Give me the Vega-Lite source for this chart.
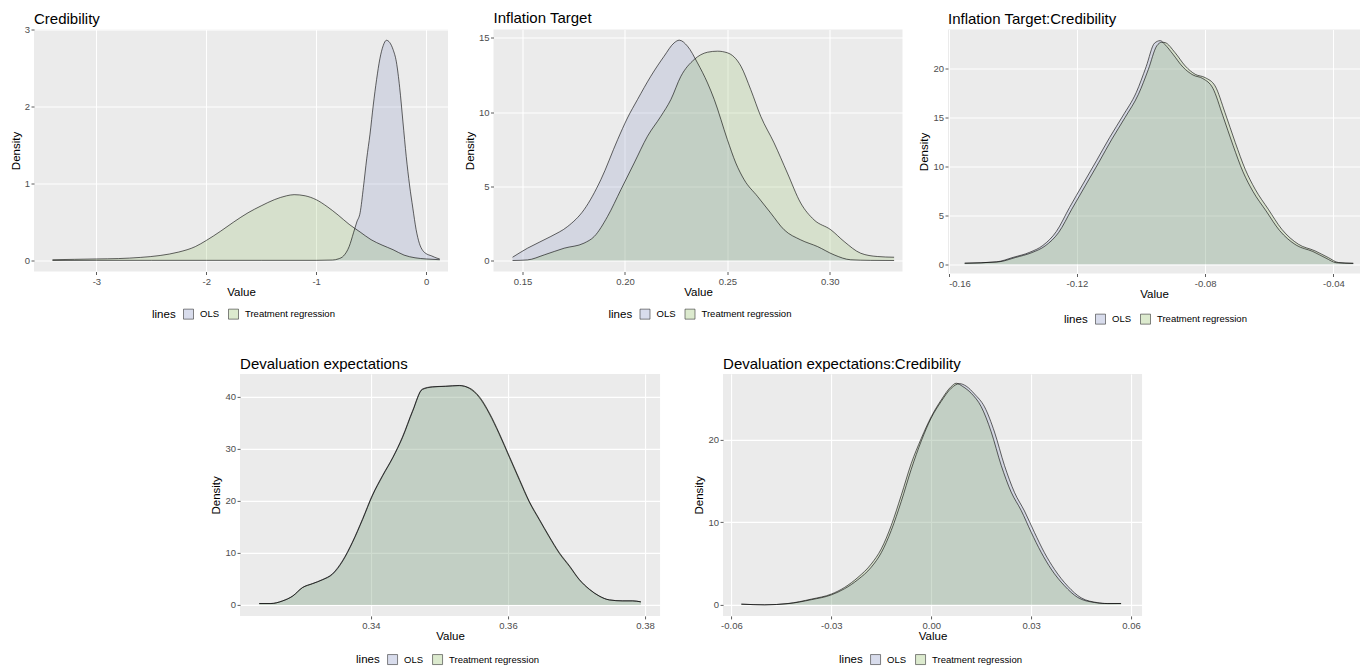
{
  "$schema": "https://vega.github.io/schema/vega-lite/v6.json",
  "background": "white",
  "padding": {"left": 10, "top": 10.5, "right": 0, "bottom": 0},
  "config": {
    "font": "Liberation Sans",
    "view": {"fill": "#EBEBEB", "stroke": null},
    "axis": {"domain": false, "grid": true, "gridColor": "white", "gridWidth": 1.1, "tickColor": "#333333", "tickSize": 3, "tickWidth": 0.8, "labelColor": "#4D4D4D", "labelFontSize": 9.5, "labelPadding": 1.5, "titleFontSize": 11.5, "titleFontWeight": "normal", "titleColor": "black"},
    "axisX": {"titlePadding": 1},
    "axisY": {"titlePadding": 3},
    "legend": {"orient": "none", "direction": "horizontal", "titleOrient": "left", "symbolType": "square", "symbolSize": 100, "symbolStrokeColor": "#333333", "symbolStrokeWidth": 0.6, "labelFontSize": 9.5, "labelColor": "black", "titleFontSize": 11.5, "titleFontWeight": "normal", "titleColor": "black", "titlePadding": 7, "labelOffset": 6, "columnPadding": 7, "padding": 0},
    "title": {"anchor": "start", "frame": "group", "fontSize": 15, "fontWeight": "normal", "color": "black", "offset": 0}
  },
  "datasets": {
    "p1": [
      {"lines": "OLS", "v": -3.4, "d": 0}, {"lines": "OLS", "v": -3.0, "d": 0.002}, {"lines": "OLS", "v": -2.5, "d": 0.002}, {"lines": "OLS", "v": -2.0, "d": 0.002}, {"lines": "OLS", "v": -1.5, "d": 0.002}, {"lines": "OLS", "v": -1.0, "d": 0.002}, {"lines": "OLS", "v": -0.85, "d": 0.006}, {"lines": "OLS", "v": -0.8, "d": 0.02}, {"lines": "OLS", "v": -0.75, "d": 0.06}, {"lines": "OLS", "v": -0.7, "d": 0.18}, {"lines": "OLS", "v": -0.66, "d": 0.36}, {"lines": "OLS", "v": -0.63, "d": 0.5}, {"lines": "OLS", "v": -0.6, "d": 0.62}, {"lines": "OLS", "v": -0.57, "d": 0.95}, {"lines": "OLS", "v": -0.54, "d": 1.32}, {"lines": "OLS", "v": -0.51, "d": 1.64}, {"lines": "OLS", "v": -0.48, "d": 2.02}, {"lines": "OLS", "v": -0.45, "d": 2.35}, {"lines": "OLS", "v": -0.42, "d": 2.62}, {"lines": "OLS", "v": -0.39, "d": 2.79}, {"lines": "OLS", "v": -0.36, "d": 2.86}, {"lines": "OLS", "v": -0.33, "d": 2.83}, {"lines": "OLS", "v": -0.3, "d": 2.74}, {"lines": "OLS", "v": -0.27, "d": 2.58}, {"lines": "OLS", "v": -0.24, "d": 2.25}, {"lines": "OLS", "v": -0.21, "d": 1.8}, {"lines": "OLS", "v": -0.18, "d": 1.35}, {"lines": "OLS", "v": -0.15, "d": 0.98}, {"lines": "OLS", "v": -0.12, "d": 0.68}, {"lines": "OLS", "v": -0.09, "d": 0.4}, {"lines": "OLS", "v": -0.06, "d": 0.22}, {"lines": "OLS", "v": -0.03, "d": 0.13}, {"lines": "OLS", "v": 0.0, "d": 0.09}, {"lines": "OLS", "v": 0.05, "d": 0.06}, {"lines": "OLS", "v": 0.1, "d": 0.03}, {"lines": "OLS", "v": 0.125, "d": 0.02},
      {"lines": "Treatment regression", "v": -3.4, "d": 0.01}, {"lines": "Treatment regression", "v": -3.2, "d": 0.015}, {"lines": "Treatment regression", "v": -3.0, "d": 0.02}, {"lines": "Treatment regression", "v": -2.8, "d": 0.025}, {"lines": "Treatment regression", "v": -2.6, "d": 0.04}, {"lines": "Treatment regression", "v": -2.42, "d": 0.065}, {"lines": "Treatment regression", "v": -2.25, "d": 0.11}, {"lines": "Treatment regression", "v": -2.1, "d": 0.18}, {"lines": "Treatment regression", "v": -2.0, "d": 0.26}, {"lines": "Treatment regression", "v": -1.87, "d": 0.38}, {"lines": "Treatment regression", "v": -1.75, "d": 0.5}, {"lines": "Treatment regression", "v": -1.62, "d": 0.62}, {"lines": "Treatment regression", "v": -1.5, "d": 0.71}, {"lines": "Treatment regression", "v": -1.38, "d": 0.79}, {"lines": "Treatment regression", "v": -1.27, "d": 0.84}, {"lines": "Treatment regression", "v": -1.2, "d": 0.855}, {"lines": "Treatment regression", "v": -1.1, "d": 0.84}, {"lines": "Treatment regression", "v": -1.0, "d": 0.79}, {"lines": "Treatment regression", "v": -0.9, "d": 0.7}, {"lines": "Treatment regression", "v": -0.8, "d": 0.59}, {"lines": "Treatment regression", "v": -0.7, "d": 0.47}, {"lines": "Treatment regression", "v": -0.6, "d": 0.37}, {"lines": "Treatment regression", "v": -0.5, "d": 0.27}, {"lines": "Treatment regression", "v": -0.4, "d": 0.2}, {"lines": "Treatment regression", "v": -0.3, "d": 0.14}, {"lines": "Treatment regression", "v": -0.2, "d": 0.07}, {"lines": "Treatment regression", "v": -0.1, "d": 0.035}, {"lines": "Treatment regression", "v": 0.0, "d": 0.02}, {"lines": "Treatment regression", "v": 0.125, "d": 0.01}
    ],
    "p2": [
      {"lines": "OLS", "v": 0.1451, "d": 0.22}, {"lines": "OLS", "v": 0.1524, "d": 0.83}, {"lines": "OLS", "v": 0.1638, "d": 1.62}, {"lines": "OLS", "v": 0.172, "d": 2.29}, {"lines": "OLS", "v": 0.18, "d": 3.42}, {"lines": "OLS", "v": 0.1882, "d": 5.44}, {"lines": "OLS", "v": 0.1964, "d": 8.14}, {"lines": "OLS", "v": 0.2012, "d": 9.6}, {"lines": "OLS", "v": 0.2061, "d": 10.84}, {"lines": "OLS", "v": 0.2126, "d": 12.41}, {"lines": "OLS", "v": 0.2191, "d": 13.76}, {"lines": "OLS", "v": 0.224, "d": 14.66}, {"lines": "OLS", "v": 0.2265, "d": 14.84}, {"lines": "OLS", "v": 0.2305, "d": 14.44}, {"lines": "OLS", "v": 0.2354, "d": 13.31}, {"lines": "OLS", "v": 0.2403, "d": 11.96}, {"lines": "OLS", "v": 0.2436, "d": 10.84}, {"lines": "OLS", "v": 0.25, "d": 8.14}, {"lines": "OLS", "v": 0.2541, "d": 6.57}, {"lines": "OLS", "v": 0.2582, "d": 5.44}, {"lines": "OLS", "v": 0.2647, "d": 4.32}, {"lines": "OLS", "v": 0.2712, "d": 3.19}, {"lines": "OLS", "v": 0.2777, "d": 2.07}, {"lines": "OLS", "v": 0.2858, "d": 1.39}, {"lines": "OLS", "v": 0.294, "d": 0.94}, {"lines": "OLS", "v": 0.3021, "d": 0.38}, {"lines": "OLS", "v": 0.3102, "d": 0.05}, {"lines": "OLS", "v": 0.32, "d": 0.01}, {"lines": "OLS", "v": 0.3314, "d": 0.0},
      {"lines": "Treatment regression", "v": 0.1451, "d": 0.0}, {"lines": "Treatment regression", "v": 0.1524, "d": 0.04}, {"lines": "Treatment regression", "v": 0.1606, "d": 0.38}, {"lines": "Treatment regression", "v": 0.1703, "d": 0.83}, {"lines": "Treatment regression", "v": 0.18, "d": 1.17}, {"lines": "Treatment regression", "v": 0.185, "d": 1.62}, {"lines": "Treatment regression", "v": 0.1915, "d": 2.97}, {"lines": "Treatment regression", "v": 0.198, "d": 4.77}, {"lines": "Treatment regression", "v": 0.2045, "d": 6.57}, {"lines": "Treatment regression", "v": 0.211, "d": 8.37}, {"lines": "Treatment regression", "v": 0.2175, "d": 9.71}, {"lines": "Treatment regression", "v": 0.2224, "d": 10.84}, {"lines": "Treatment regression", "v": 0.2273, "d": 12.41}, {"lines": "Treatment regression", "v": 0.2338, "d": 13.54}, {"lines": "Treatment regression", "v": 0.2403, "d": 14.03}, {"lines": "Treatment regression", "v": 0.2452, "d": 14.1}, {"lines": "Treatment regression", "v": 0.25, "d": 13.99}, {"lines": "Treatment regression", "v": 0.2566, "d": 13.09}, {"lines": "Treatment regression", "v": 0.2614, "d": 11.51}, {"lines": "Treatment regression", "v": 0.2663, "d": 9.71}, {"lines": "Treatment regression", "v": 0.2728, "d": 7.92}, {"lines": "Treatment regression", "v": 0.2793, "d": 5.89}, {"lines": "Treatment regression", "v": 0.2858, "d": 3.87}, {"lines": "Treatment regression", "v": 0.2923, "d": 2.74}, {"lines": "Treatment regression", "v": 0.3005, "d": 2.07}, {"lines": "Treatment regression", "v": 0.307, "d": 1.28}, {"lines": "Treatment regression", "v": 0.3151, "d": 0.49}, {"lines": "Treatment regression", "v": 0.3232, "d": 0.27}, {"lines": "Treatment regression", "v": 0.3314, "d": 0.22}
    ],
    "p3": [
      {"lines": "OLS", "v": -0.155, "d": 0.1}, {"lines": "OLS", "v": -0.1451, "d": 0.24}, {"lines": "OLS", "v": -0.1399, "d": 0.7}, {"lines": "OLS", "v": -0.1347, "d": 1.22}, {"lines": "OLS", "v": -0.1306, "d": 1.92}, {"lines": "OLS", "v": -0.1264, "d": 3.35}, {"lines": "OLS", "v": -0.1223, "d": 5.8}, {"lines": "OLS", "v": -0.1181, "d": 8.2}, {"lines": "OLS", "v": -0.1139, "d": 10.58}, {"lines": "OLS", "v": -0.1098, "d": 12.95}, {"lines": "OLS", "v": -0.1057, "d": 15.15}, {"lines": "OLS", "v": -0.1015, "d": 17.55}, {"lines": "OLS", "v": -0.0984, "d": 20.2}, {"lines": "OLS", "v": -0.0958, "d": 22.6}, {"lines": "OLS", "v": -0.094, "d": 22.86}, {"lines": "OLS", "v": -0.0925, "d": 22.45}, {"lines": "OLS", "v": -0.0901, "d": 21.5}, {"lines": "OLS", "v": -0.0869, "d": 20.15}, {"lines": "OLS", "v": -0.0838, "d": 19.35}, {"lines": "OLS", "v": -0.0807, "d": 18.98}, {"lines": "OLS", "v": -0.0776, "d": 18.0}, {"lines": "OLS", "v": -0.0745, "d": 15.2}, {"lines": "OLS", "v": -0.0713, "d": 12.15}, {"lines": "OLS", "v": -0.0682, "d": 9.45}, {"lines": "OLS", "v": -0.0651, "d": 7.45}, {"lines": "OLS", "v": -0.061, "d": 5.45}, {"lines": "OLS", "v": -0.0568, "d": 3.45}, {"lines": "OLS", "v": -0.0516, "d": 1.95}, {"lines": "OLS", "v": -0.0464, "d": 1.3}, {"lines": "OLS", "v": -0.0423, "d": 0.62}, {"lines": "OLS", "v": -0.0391, "d": 0.15}, {"lines": "OLS", "v": -0.0338, "d": 0.08},
      {"lines": "Treatment regression", "v": -0.155, "d": 0.1}, {"lines": "Treatment regression", "v": -0.1444, "d": 0.24}, {"lines": "Treatment regression", "v": -0.1392, "d": 0.68}, {"lines": "Treatment regression", "v": -0.134, "d": 1.19}, {"lines": "Treatment regression", "v": -0.1299, "d": 1.87}, {"lines": "Treatment regression", "v": -0.1257, "d": 3.24}, {"lines": "Treatment regression", "v": -0.1216, "d": 5.62}, {"lines": "Treatment regression", "v": -0.1174, "d": 8.01}, {"lines": "Treatment regression", "v": -0.1132, "d": 10.39}, {"lines": "Treatment regression", "v": -0.1091, "d": 12.78}, {"lines": "Treatment regression", "v": -0.105, "d": 14.99}, {"lines": "Treatment regression", "v": -0.1008, "d": 17.38}, {"lines": "Treatment regression", "v": -0.0977, "d": 19.93}, {"lines": "Treatment regression", "v": -0.0951, "d": 22.32}, {"lines": "Treatment regression", "v": -0.0935, "d": 22.7}, {"lines": "Treatment regression", "v": -0.0925, "d": 22.66}, {"lines": "Treatment regression", "v": -0.0894, "d": 21.64}, {"lines": "Treatment regression", "v": -0.0862, "d": 20.27}, {"lines": "Treatment regression", "v": -0.0831, "d": 19.42}, {"lines": "Treatment regression", "v": -0.08, "d": 19.08}, {"lines": "Treatment regression", "v": -0.0769, "d": 18.23}, {"lines": "Treatment regression", "v": -0.0738, "d": 15.5}, {"lines": "Treatment regression", "v": -0.0706, "d": 12.44}, {"lines": "Treatment regression", "v": -0.0675, "d": 9.71}, {"lines": "Treatment regression", "v": -0.0644, "d": 7.67}, {"lines": "Treatment regression", "v": -0.0603, "d": 5.62}, {"lines": "Treatment regression", "v": -0.0561, "d": 3.58}, {"lines": "Treatment regression", "v": -0.0509, "d": 2.04}, {"lines": "Treatment regression", "v": -0.0457, "d": 1.36}, {"lines": "Treatment regression", "v": -0.0416, "d": 0.68}, {"lines": "Treatment regression", "v": -0.0384, "d": 0.17}, {"lines": "Treatment regression", "v": -0.0338, "d": 0.1}
    ],
    "p4": [
      {"lines": "OLS", "v": 0.3237, "d": 0.26}, {"lines": "OLS", "v": 0.3254, "d": 0.26}, {"lines": "OLS", "v": 0.3271, "d": 0.75}, {"lines": "OLS", "v": 0.3286, "d": 1.7}, {"lines": "OLS", "v": 0.33, "d": 3.3}, {"lines": "OLS", "v": 0.3315, "d": 4.1}, {"lines": "OLS", "v": 0.3329, "d": 4.85}, {"lines": "OLS", "v": 0.3344, "d": 6.0}, {"lines": "OLS", "v": 0.3359, "d": 8.6}, {"lines": "OLS", "v": 0.3373, "d": 12.1}, {"lines": "OLS", "v": 0.3388, "d": 16.6}, {"lines": "OLS", "v": 0.3402, "d": 21.1}, {"lines": "OLS", "v": 0.3417, "d": 24.9}, {"lines": "OLS", "v": 0.3432, "d": 28.4}, {"lines": "OLS", "v": 0.3446, "d": 32.3}, {"lines": "OLS", "v": 0.3461, "d": 37.4}, {"lines": "OLS", "v": 0.3475, "d": 41.5}, {"lines": "OLS", "v": 0.349, "d": 41.95}, {"lines": "OLS", "v": 0.3509, "d": 42.05}, {"lines": "OLS", "v": 0.3529, "d": 42.2}, {"lines": "OLS", "v": 0.3544, "d": 41.6}, {"lines": "OLS", "v": 0.3558, "d": 39.9}, {"lines": "OLS", "v": 0.3573, "d": 36.7}, {"lines": "OLS", "v": 0.3587, "d": 32.9}, {"lines": "OLS", "v": 0.3602, "d": 28.4}, {"lines": "OLS", "v": 0.3617, "d": 23.9}, {"lines": "OLS", "v": 0.3631, "d": 19.8}, {"lines": "OLS", "v": 0.3646, "d": 16.3}, {"lines": "OLS", "v": 0.366, "d": 13.1}, {"lines": "OLS", "v": 0.3675, "d": 9.9}, {"lines": "OLS", "v": 0.369, "d": 7.35}, {"lines": "OLS", "v": 0.3704, "d": 4.85}, {"lines": "OLS", "v": 0.3719, "d": 2.95}, {"lines": "OLS", "v": 0.3733, "d": 1.7}, {"lines": "OLS", "v": 0.3748, "d": 0.95}, {"lines": "OLS", "v": 0.3767, "d": 0.77}, {"lines": "OLS", "v": 0.3782, "d": 0.77}, {"lines": "OLS", "v": 0.3794, "d": 0.58},
      {"lines": "Treatment regression", "v": 0.3237, "d": 0.26}, {"lines": "Treatment regression", "v": 0.3254, "d": 0.26}, {"lines": "Treatment regression", "v": 0.3271, "d": 0.77}, {"lines": "Treatment regression", "v": 0.3286, "d": 1.73}, {"lines": "Treatment regression", "v": 0.33, "d": 3.33}, {"lines": "Treatment regression", "v": 0.3315, "d": 4.09}, {"lines": "Treatment regression", "v": 0.3329, "d": 4.8}, {"lines": "Treatment regression", "v": 0.3344, "d": 5.89}, {"lines": "Treatment regression", "v": 0.3359, "d": 8.45}, {"lines": "Treatment regression", "v": 0.3373, "d": 11.96}, {"lines": "Treatment regression", "v": 0.3388, "d": 16.44}, {"lines": "Treatment regression", "v": 0.3402, "d": 20.92}, {"lines": "Treatment regression", "v": 0.3417, "d": 24.76}, {"lines": "Treatment regression", "v": 0.3432, "d": 28.28}, {"lines": "Treatment regression", "v": 0.3446, "d": 32.12}, {"lines": "Treatment regression", "v": 0.3461, "d": 37.24}, {"lines": "Treatment regression", "v": 0.3475, "d": 41.4}, {"lines": "Treatment regression", "v": 0.349, "d": 41.9}, {"lines": "Treatment regression", "v": 0.3509, "d": 42.03}, {"lines": "Treatment regression", "v": 0.3529, "d": 42.16}, {"lines": "Treatment regression", "v": 0.3544, "d": 41.7}, {"lines": "Treatment regression", "v": 0.3558, "d": 40.1}, {"lines": "Treatment regression", "v": 0.3573, "d": 36.9}, {"lines": "Treatment regression", "v": 0.3587, "d": 33.1}, {"lines": "Treatment regression", "v": 0.3602, "d": 28.6}, {"lines": "Treatment regression", "v": 0.3617, "d": 24.1}, {"lines": "Treatment regression", "v": 0.3631, "d": 19.96}, {"lines": "Treatment regression", "v": 0.3646, "d": 16.44}, {"lines": "Treatment regression", "v": 0.366, "d": 13.24}, {"lines": "Treatment regression", "v": 0.3675, "d": 10.05}, {"lines": "Treatment regression", "v": 0.369, "d": 7.49}, {"lines": "Treatment regression", "v": 0.3704, "d": 4.93}, {"lines": "Treatment regression", "v": 0.3719, "d": 3.01}, {"lines": "Treatment regression", "v": 0.3733, "d": 1.73}, {"lines": "Treatment regression", "v": 0.3748, "d": 0.96}, {"lines": "Treatment regression", "v": 0.3767, "d": 0.77}, {"lines": "Treatment regression", "v": 0.3782, "d": 0.77}, {"lines": "Treatment regression", "v": 0.3794, "d": 0.58}
    ],
    "p5": [
      {"lines": "OLS", "v": -0.057, "d": 0.08}, {"lines": "OLS", "v": -0.05, "d": 0.0}, {"lines": "OLS", "v": -0.043, "d": 0.14}, {"lines": "OLS", "v": -0.036, "d": 0.62}, {"lines": "OLS", "v": -0.03, "d": 1.2}, {"lines": "OLS", "v": -0.026, "d": 1.95}, {"lines": "OLS", "v": -0.022, "d": 3.05}, {"lines": "OLS", "v": -0.018, "d": 4.55}, {"lines": "OLS", "v": -0.015, "d": 6.3}, {"lines": "OLS", "v": -0.012, "d": 9.0}, {"lines": "OLS", "v": -0.009, "d": 12.5}, {"lines": "OLS", "v": -0.006, "d": 16.4}, {"lines": "OLS", "v": -0.003, "d": 19.8}, {"lines": "OLS", "v": 0.0, "d": 22.6}, {"lines": "OLS", "v": 0.003, "d": 24.6}, {"lines": "OLS", "v": 0.006, "d": 26.2}, {"lines": "OLS", "v": 0.0085, "d": 26.75}, {"lines": "OLS", "v": 0.0105, "d": 26.45}, {"lines": "OLS", "v": 0.013, "d": 25.5}, {"lines": "OLS", "v": 0.016, "d": 23.95}, {"lines": "OLS", "v": 0.019, "d": 20.9}, {"lines": "OLS", "v": 0.022, "d": 16.85}, {"lines": "OLS", "v": 0.025, "d": 13.6}, {"lines": "OLS", "v": 0.028, "d": 11.35}, {"lines": "OLS", "v": 0.031, "d": 8.75}, {"lines": "OLS", "v": 0.034, "d": 6.3}, {"lines": "OLS", "v": 0.037, "d": 4.3}, {"lines": "OLS", "v": 0.041, "d": 2.25}, {"lines": "OLS", "v": 0.045, "d": 0.85}, {"lines": "OLS", "v": 0.05, "d": 0.26}, {"lines": "OLS", "v": 0.053, "d": 0.15}, {"lines": "OLS", "v": 0.057, "d": 0.16},
      {"lines": "Treatment regression", "v": -0.057, "d": 0.08}, {"lines": "Treatment regression", "v": -0.05, "d": 0.0}, {"lines": "Treatment regression", "v": -0.043, "d": 0.16}, {"lines": "Treatment regression", "v": -0.036, "d": 0.69}, {"lines": "Treatment regression", "v": -0.03, "d": 1.3}, {"lines": "Treatment regression", "v": -0.026, "d": 2.11}, {"lines": "Treatment regression", "v": -0.022, "d": 3.32}, {"lines": "Treatment regression", "v": -0.018, "d": 4.94}, {"lines": "Treatment regression", "v": -0.015, "d": 6.76}, {"lines": "Treatment regression", "v": -0.012, "d": 9.6}, {"lines": "Treatment regression", "v": -0.009, "d": 13.24}, {"lines": "Treatment regression", "v": -0.006, "d": 17.09}, {"lines": "Treatment regression", "v": -0.003, "d": 20.12}, {"lines": "Treatment regression", "v": 0.0, "d": 22.75}, {"lines": "Treatment regression", "v": 0.003, "d": 24.78}, {"lines": "Treatment regression", "v": 0.006, "d": 26.4}, {"lines": "Treatment regression", "v": 0.0075, "d": 26.8}, {"lines": "Treatment regression", "v": 0.0095, "d": 26.4}, {"lines": "Treatment regression", "v": 0.012, "d": 25.59}, {"lines": "Treatment regression", "v": 0.015, "d": 23.97}, {"lines": "Treatment regression", "v": 0.018, "d": 20.93}, {"lines": "Treatment regression", "v": 0.021, "d": 16.88}, {"lines": "Treatment regression", "v": 0.024, "d": 13.64}, {"lines": "Treatment regression", "v": 0.027, "d": 11.42}, {"lines": "Treatment regression", "v": 0.03, "d": 8.79}, {"lines": "Treatment regression", "v": 0.033, "d": 6.36}, {"lines": "Treatment regression", "v": 0.036, "d": 4.33}, {"lines": "Treatment regression", "v": 0.04, "d": 2.31}, {"lines": "Treatment regression", "v": 0.044, "d": 0.89}, {"lines": "Treatment regression", "v": 0.049, "d": 0.28}, {"lines": "Treatment regression", "v": 0.052, "d": 0.16}, {"lines": "Treatment regression", "v": 0.057, "d": 0.16}
    ]
  },
  "vconcat": [
    {
      "hconcat": [
        {
          "width": 414, "height": 242,
          "title": {"text": "Credibility", "offset": -2},
          "data": {"name": "p1"},
          "resolve": {"axis": {"x": "independent", "y": "independent"}},
          "layer": [
            {"mark": {"type": "area", "fillOpacity": 0.2, "interpolate": "monotone"},
             "encoding": {
               "x": {"field": "v", "type": "quantitative", "scale": {"domain": [-3.568, 0.2], "nice": false, "zero": false}, "axis": {"title": "Value", "values": [-3, -2, -1, 0], "labelExpr": "replace(format(datum.value, 'd'), '\u2212', '-')"}},
               "y": {"field": "d", "type": "quantitative", "scale": {"domain": [-0.143, 3.0], "nice": false, "zero": false}, "axis": {"title": "Density", "values": [0, 1, 2, 3], "format": "d"}},
               "y2": {"datum": 0},
               "fill": {"field": "lines", "type": "nominal", "scale": {"domain": ["OLS", "Treatment regression"], "range": ["#7382b9", "#82b450"]}, "legend": {"title": "lines", "legendX": 118, "legendY": 279, "encode": {"symbols": {"update": {"fillOpacity": {"value": 0.28}, "stroke": {"value": "#333333"}, "strokeWidth": {"value": 0.6}}}}}}
             }},
            {"mark": {"type": "line", "stroke": "black", "strokeWidth": 0.6, "interpolate": "monotone"},
             "encoding": {
               "x": {"field": "v", "type": "quantitative", "axis": {"orient": "top", "title": null, "labels": false, "ticks": false, "values": [-3.5, -2.5, -1.5, -0.5], "gridWidth": 0.55}},
               "y": {"field": "d", "type": "quantitative", "axis": {"orient": "right", "title": null, "labels": false, "ticks": false, "values": [0.5, 1.5, 2.5], "gridWidth": 0.55}},
               "detail": {"field": "lines"}
             }}
          ]
        },
        {
          "width": 409, "height": 242,
          "title": {"text": "Inflation Target", "offset": 3.6},
          "data": {"name": "p2"},
          "resolve": {"axis": {"x": "independent", "y": "independent"}},
          "layer": [
            {"mark": {"type": "area", "fillOpacity": 0.2, "interpolate": "monotone"},
             "encoding": {
               "x": {"field": "v", "type": "quantitative", "scale": {"domain": [0.1358, 0.3355], "nice": false, "zero": false}, "axis": {"title": "Value", "values": [0.15, 0.2, 0.25, 0.3], "format": ".2f"}},
               "y": {"field": "d", "type": "quantitative", "scale": {"domain": [-0.74, 15.56], "nice": false, "zero": false}, "axis": {"title": "Density", "values": [0, 5, 10, 15], "format": "d"}},
               "y2": {"datum": 0},
               "fill": {"field": "lines", "type": "nominal", "scale": {"domain": ["OLS", "Treatment regression"], "range": ["#7382b9", "#82b450"]}, "legend": {"title": "lines", "legendX": 115, "legendY": 279, "encode": {"symbols": {"update": {"fillOpacity": {"value": 0.28}, "stroke": {"value": "#333333"}, "strokeWidth": {"value": 0.6}}}}}}
             }},
            {"mark": {"type": "line", "stroke": "black", "strokeWidth": 0.6, "interpolate": "monotone"},
             "encoding": {
               "x": {"field": "v", "type": "quantitative", "axis": {"orient": "top", "title": null, "labels": false, "ticks": false, "values": [0.175, 0.225, 0.275, 0.325], "gridWidth": 0.55}},
               "y": {"field": "d", "type": "quantitative", "axis": {"orient": "right", "title": null, "labels": false, "ticks": false, "values": [2.5, 7.5, 12.5], "gridWidth": 0.55}},
               "detail": {"field": "lines"}
             }}
          ]
        },
        {
          "width": 412, "height": 244,
          "title": {"text": "Inflation Target:Credibility", "offset": 3},
          "data": {"name": "p3"},
          "resolve": {"axis": {"x": "independent", "y": "independent"}},
          "layer": [
            {"mark": {"type": "area", "fillOpacity": 0.2, "interpolate": "monotone"},
             "encoding": {
               "x": {"field": "v", "type": "quantitative", "scale": {"domain": [-0.1602, -0.0317], "nice": false, "zero": false}, "axis": {"title": "Value", "values": [-0.16, -0.12, -0.08, -0.04], "labelExpr": "replace(format(datum.value, '.2f'), '\u2212', '-')"}},
               "y": {"field": "d", "type": "quantitative", "scale": {"domain": [-0.95, 24.0], "nice": false, "zero": false}, "axis": {"title": "Density", "values": [0, 5, 10, 15, 20], "format": "d"}},
               "y2": {"datum": 0},
               "fill": {"field": "lines", "type": "nominal", "scale": {"domain": ["OLS", "Treatment regression"], "range": ["#7382b9", "#82b450"]}, "legend": {"title": "lines", "legendX": 116, "legendY": 284, "encode": {"symbols": {"update": {"fillOpacity": {"value": 0.28}, "stroke": {"value": "#333333"}, "strokeWidth": {"value": 0.6}}}}}}
             }},
            {"mark": {"type": "line", "stroke": "black", "strokeWidth": 0.6, "interpolate": "monotone"},
             "encoding": {
               "x": {"field": "v", "type": "quantitative", "axis": {"orient": "top", "title": null, "labels": false, "ticks": false, "values": [-0.14, -0.1, -0.06], "gridWidth": 0.55}},
               "y": {"field": "d", "type": "quantitative", "axis": {"orient": "right", "title": null, "labels": false, "ticks": false, "values": [2.5, 7.5, 12.5, 17.5, 22.5], "gridWidth": 0.55}},
               "detail": {"field": "lines"}
             }}
          ]
        }
      ],
      "spacing": 45.5,
      "bounds": "flush",
      "resolve": {"scale": {"fill": "independent"}, "legend": {"fill": "independent"}}
    },
    {
      "hconcat": [
        {
          "width": 420, "height": 242,
          "title": {"text": "Devaluation expectations", "offset": 1.6},
          "data": {"name": "p4"},
          "resolve": {"axis": {"x": "independent", "y": "independent"}},
          "layer": [
            {"mark": {"type": "area", "fillOpacity": 0.2, "interpolate": "monotone"},
             "encoding": {
               "x": {"field": "v", "type": "quantitative", "scale": {"domain": [0.3209, 0.3822], "nice": false, "zero": false}, "axis": {"title": "Value", "values": [0.34, 0.36, 0.38], "format": ".2f"}},
               "y": {"field": "d", "type": "quantitative", "scale": {"domain": [-2.12, 44.42], "nice": false, "zero": false}, "axis": {"title": "Density", "values": [0, 10, 20, 30, 40], "format": "d"}},
               "y2": {"datum": 0},
               "fill": {"field": "lines", "type": "nominal", "scale": {"domain": ["OLS", "Treatment regression"], "range": ["#7382b9", "#82b450"]}, "legend": {"title": "lines", "legendX": 116, "legendY": 280, "encode": {"symbols": {"update": {"fillOpacity": {"value": 0.28}, "stroke": {"value": "#333333"}, "strokeWidth": {"value": 0.6}}}}}}
             }},
            {"mark": {"type": "line", "stroke": "black", "strokeWidth": 0.6, "interpolate": "monotone"},
             "encoding": {
               "x": {"field": "v", "type": "quantitative", "axis": {"orient": "top", "title": null, "labels": false, "ticks": false, "values": [0.33, 0.35, 0.37], "gridWidth": 0.55}},
               "y": {"field": "d", "type": "quantitative", "axis": {"orient": "right", "title": null, "labels": false, "ticks": false, "values": [5, 15, 25, 35], "gridWidth": 0.55}},
               "detail": {"field": "lines"}
             }}
          ]
        },
        {
          "width": 419, "height": 242,
          "title": {"text": "Devaluation expectations:Credibility", "offset": 1.6},
          "data": {"name": "p5"},
          "resolve": {"axis": {"x": "independent", "y": "independent"}},
          "layer": [
            {"mark": {"type": "area", "fillOpacity": 0.2, "interpolate": "monotone"},
             "encoding": {
               "x": {"field": "v", "type": "quantitative", "scale": {"domain": [-0.0625, 0.0633], "nice": false, "zero": false}, "axis": {"title": "Value", "values": [-0.06, -0.03, 0, 0.03, 0.06], "labelExpr": "replace(format(datum.value, '.2f'), '\u2212', '-')"}},
               "y": {"field": "d", "type": "quantitative", "scale": {"domain": [-1.34, 27.93], "nice": false, "zero": false}, "axis": {"title": "Density", "values": [0, 10, 20], "format": "d"}},
               "y2": {"datum": 0},
               "fill": {"field": "lines", "type": "nominal", "scale": {"domain": ["OLS", "Treatment regression"], "range": ["#7382b9", "#82b450"]}, "legend": {"title": "lines", "legendX": 116, "legendY": 280, "encode": {"symbols": {"update": {"fillOpacity": {"value": 0.28}, "stroke": {"value": "#333333"}, "strokeWidth": {"value": 0.6}}}}}}
             }},
            {"mark": {"type": "line", "stroke": "black", "strokeWidth": 0.6, "interpolate": "monotone"},
             "encoding": {
               "x": {"field": "v", "type": "quantitative", "axis": {"orient": "top", "title": null, "labels": false, "ticks": false, "values": [-0.045, -0.015, 0.015, 0.045], "gridWidth": 0.55}},
               "y": {"field": "d", "type": "quantitative", "axis": {"orient": "right", "title": null, "labels": false, "ticks": true, "tickSize": 11.5, "tickColor": "transparent", "values": [5, 15, 25], "gridWidth": 0.55}},
               "detail": {"field": "lines"}
             }}
          ]
        }
      ],
      "spacing": 63,
      "bounds": "flush",
      "resolve": {"scale": {"fill": "independent"}, "legend": {"fill": "independent"}}
    }
  ],
  "spacing": 31.4,
  "center": true,
  "resolve": {"scale": {"fill": "independent"}, "legend": {"fill": "independent"}}
}
